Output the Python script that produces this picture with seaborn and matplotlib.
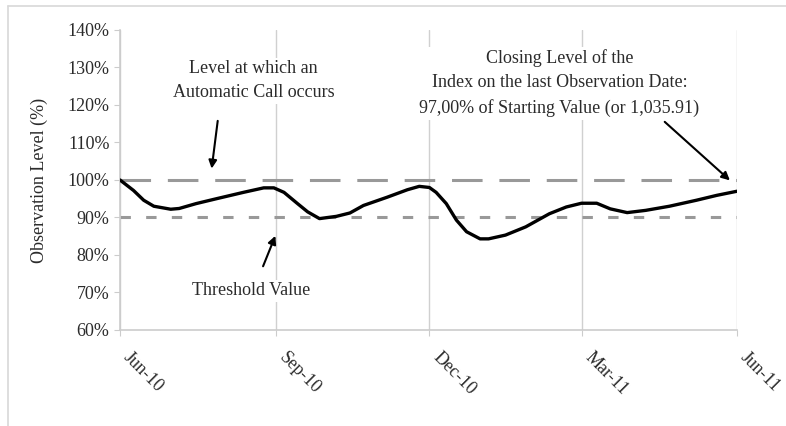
import numpy as np
import pandas as pd
import matplotlib
matplotlib.use("Agg")
import matplotlib.pyplot as plt
import matplotlib.dates as mdates
from matplotlib.ticker import FuncFormatter
import seaborn as sns

# observation levels (% of starting value)
obs_dates = ["2010-06-01", "2010-06-09", "2010-06-15", "2010-06-21", "2010-07-01",
             "2010-07-06", "2010-07-16", "2010-07-28", "2010-08-13", "2010-08-25",
             "2010-08-31", "2010-09-06", "2010-09-14", "2010-09-20", "2010-09-27",
             "2010-10-07", "2010-10-15", "2010-10-23", "2010-11-06", "2010-11-18",
             "2010-11-25", "2010-12-01", "2010-12-05", "2010-12-11", "2010-12-17",
             "2010-12-23", "2010-12-31", "2011-01-05", "2011-01-15", "2011-01-27",
             "2011-02-04", "2011-02-10", "2011-02-20", "2011-03-01", "2011-03-10",
             "2011-03-18", "2011-03-28", "2011-04-08", "2011-04-22", "2011-05-08",
             "2011-05-20", "2011-06-01"]
obs_levels = [100.0, 97.2, 94.6, 93.0, 92.2,
              92.4, 93.7, 95.0, 96.7, 97.9,
              97.9, 96.7, 93.7, 91.5, 89.7,
              90.3, 91.2, 93.2, 95.4, 97.4,
              98.3, 98.0, 96.7, 93.7, 89.3,
              86.2, 84.3, 84.3, 85.3, 87.5,
              89.5, 91.0, 92.8, 93.8, 93.8,
              92.3, 91.3, 91.9, 93.0, 94.6,
              95.9, 97.0]
tick_dates = ["2010-06-01", "2010-09-01", "2010-12-01", "2011-03-01", "2011-06-01"]
tick_labels = ["Jun-10", "Sep-10", "Dec-10", "Mar-11", "Jun-11"]
call_level = 100
threshold_level = 90

df = pd.DataFrame({"date": pd.to_datetime(obs_dates), "level": obs_levels})
ticks = pd.to_datetime(tick_dates)

sns.set_style("white")
plt.rcParams["font.family"] = ["Liberation Serif", "DejaVu Serif"]
txt_color = "#2b2b2b"
fs = 13

fig = plt.figure(figsize=(7.86, 4.26), dpi=100)
ax = fig.add_axes([0.1527, 0.2254, 0.785, 0.7042])

# outer frame lines
fig.add_artist(plt.Line2D([0.010, 1.0], [0.986, 0.986], color="#d8d8d8", lw=1.2))
fig.add_artist(plt.Line2D([0.010, 0.010], [0.0, 0.986], color="#d8d8d8", lw=1.2))

for t in ticks:
    ax.axvline(t, color="#d0d0d0", lw=1.0, zorder=0)

ax.axhline(call_level, color="#999999", lw=2.2, dashes=(10, 5.5), zorder=1)
ax.axhline(threshold_level, color="#999999", lw=2.2, dashes=(3.4, 5), zorder=1)

sns.lineplot(data=df, x="date", y="level", ax=ax, color="black", lw=2.4, zorder=3)
ax.lines[-1].set_solid_joinstyle("round")

ax.set_xlim(ticks[0], ticks[-1])
ax.set_ylim(60, 140)
ax.set_yticks(np.arange(60, 141, 10))
ax.yaxis.set_major_formatter(FuncFormatter(lambda v, p: f"{v:.0f}%"))
ax.set_xticks(ticks)
ax.set_xticklabels(tick_labels, rotation=-45, ha="left", va="bottom", rotation_mode="anchor")
ax.tick_params(axis="both", labelsize=fs, colors=txt_color)
ax.tick_params(axis="y", left=True, length=4, color="#cccccc")
ax.tick_params(axis="x", bottom=True, length=4, color="#cccccc", pad=18)
ax.set_xlabel("")
ax.set_ylabel("Observation Level (%)", fontsize=fs, color=txt_color, labelpad=14)

for side in ["top", "right"]:
    ax.spines[side].set_visible(False)
for side in ["left", "bottom"]:
    ax.spines[side].set_color("#cccccc")
    ax.spines[side].set_linewidth(1.2)

d0 = ticks[0]
def day(n):
    return mdates.date2num(d0 + pd.Timedelta(days=n))

box = dict(facecolor="white", edgecolor="none", pad=2)
arrow = dict(arrowstyle="-|>", color="black", lw=1.5, mutation_scale=12)

ax.text(day(79), 126.5, "Level at which an\nAutomatic Call occurs", ha="center", va="center",
        fontsize=fs, color=txt_color, linespacing=1.5, bbox=box, zorder=4)
ax.annotate("", xy=(day(54), 102.3), xytext=(day(58), 116.5), arrowprops=arrow, zorder=5)

ax.text(day(77.5), 70.4, "Threshold Value", ha="center", va="center",
        fontsize=fs, color=txt_color, bbox=box, zorder=4)
ax.annotate("", xy=(day(92.5), 85.8), xytext=(day(84), 76.3), arrowprops=arrow, zorder=5)

ax.text(day(260), 125.8,
        "Closing Level of the\nIndex on the last Observation Date:\n97,00% of Starting Value (or 1,035.91)",
        ha="center", va="center", fontsize=fs, color=txt_color, linespacing=1.55, bbox=box, zorder=4)
ax.annotate("", xy=(day(362), 99.4), xytext=(day(321), 116.0), arrowprops=arrow, zorder=5)

fig.savefig("out.png", dpi=100)
